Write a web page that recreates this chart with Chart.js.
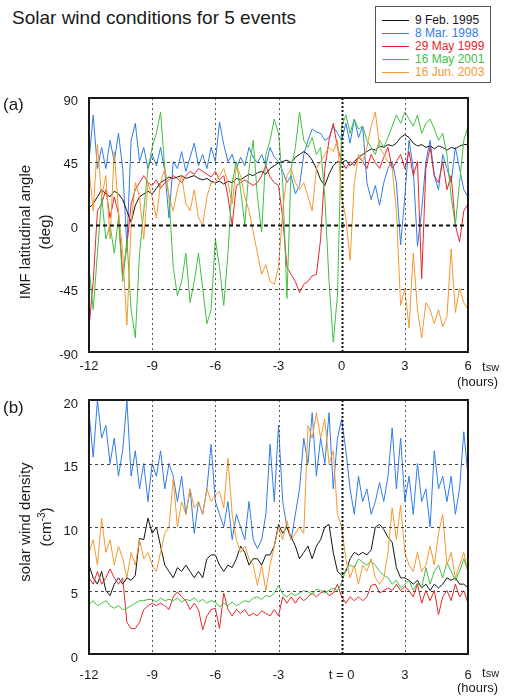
<!DOCTYPE html>
<html>
<head>
<meta charset="utf-8">
<script src="https://cdn.jsdelivr.net/npm/chart.js@4.4.0/dist/chart.umd.min.js"></script>
<style>
  body { margin:0; width:514px; height:697px; position:relative; overflow:hidden; background:#fff;
         font-family:"Liberation Sans", Arial, Helvetica, sans-serif; color:#1a1a1a; }
  .abs { position:absolute; white-space:nowrap; z-index:2; }
  canvas { position:absolute; left:0; }
  #title { left:12px; top:7px; font-size:19px; }
  #legend { left:375px; top:6px; width:116px; height:77px; border:1px solid #555; box-sizing:border-box; background:#fff; }
  .lg { position:absolute; left:6px; font-size:12px; line-height:13px; }
  .lg i { display:inline-block; width:27px; border-top:1px solid; vertical-align:middle; margin-right:6px; }
  .ylab { width:220px; text-align:center; font-size:15px; line-height:18px; transform:rotate(-90deg); }
  .panel { font-size:17px; }
  .tsw { font-size:13px; }
  .tsw span { font-size:11px; }
  .hrs { font-size:13px; }
</style>
</head>
<body>
<div class="abs" id="title">Solar wind conditions for 5 events</div>
<div class="abs" id="legend"></div>

<div class="abs panel" style="left:3px;top:95px">(a)</div>
<div class="abs panel" style="left:3px;top:398px">(b)</div>

<div class="abs ylab" style="left:-85px;top:223px">IMF latitudinal angle</div>
<div class="abs ylab" style="left:-65px;top:223px">(deg)</div>
<div class="abs ylab" style="left:-85px;top:513px">solar wind density</div>
<div class="abs ylab" style="left:-66px;top:516px">(cm<sup style="font-size:10px">-3</sup>)</div>

<div class="abs tsw" style="left:482px;top:359px">t<span>sw</span></div>
<div class="abs hrs" style="left:457px;top:374px">(hours)</div>
<div class="abs tsw" style="left:482px;top:665px">t<span>sw</span></div>
<div class="abs hrs" style="left:457px;top:680px">(hours)</div>

<canvas id="chartA" width="514" height="300" style="top:90px"></canvas>
<canvas id="chartB" width="514" height="300" style="top:392px"></canvas>

<script>
// samples every 0.2 h starting at t = -12 h (5 per hour, one row per hour)
const T0 = -12;
const STEP = 0.2;

const EVENTS = ['9 Feb. 1995', '8 Mar. 1998', '29 May 1999', '16 May 2001', '16 Jun. 2003'];
const COLORS = ['#141414', '#2f7be8', '#e8242a', '#40c03f', '#f5982f'];

const X_TICKS_A = ['-12', '-9', '-6', '-3', '0', '3', '6'];
const X_TICKS_B = ['-12', '-9', '-6', '-3', 't = 0', '3', '6'];

// ── (a) IMF latitudinal angle, deg ──────────────────────────
const ANGLE_FEB95 = [
  12, 15, 20, 25, 22,   20, 24, 22, 18, 10,   2, 14, 20, 22, 24,
  22, 26, 30, 32, 34,   33, 34, 35, 33, 34,   35, 33, 32, 33, 31,
  30, 31, 29, 31, 30,   33, 32, 34, 36, 35,   37, 38, 36, 40, 42,
  44, 45, 46, 44, 48,   50, 52, 50, 46, 40,   32, 28, 36, 42, 45,
  44, 46, 42, 45, 48,   50, 52, 54, 53, 56,   55, 57, 56, 58, 62,
  64, 62, 58, 56, 57,   55, 56, 54, 56, 55,   53, 55, 54, 56, 57,
  57];
const ANGLE_MAR98 = [
  45, 78, 40, 55, 40,   60, 45, 65, 40, -15,  60, 72, 45, 55, 40,
  50, 42, 55, 38, 5,    45, 40, 52, 38, 48,   58, 42, 50, 40, 55,
  45, 73, 57, 45, 50,   40, 48, 42, 55, 48,   44, 50, 42, 55, 48,
  45, 38, 30, 35, 22,   28, 50, 60, 68, 66,   65, 60, 62, 70, 65,
  60, 72, 58, 75, 62,   70, 30, 18, 28, 14,   30, 40, 45, 30, -14,
  20, 60, 40, -15, 10,  45, 60, 35, 25, 50,   40, 30, 55, 40, 25,
  20];
const ANGLE_MAY99 = [
  -73, -40, 10, 15, 25, 5, 20, 8, -35, -15,   15, 25, 30, 35, 30,
  28, 32, 26, 30, 32,   35, 33, 30, 35, 38,   36, 40, 38, 36, 34,
  38, 32, 35, 20, 0,    28, 30, 32, 30, 28,   30, 35, 42, 34, 30,
  28, 5, -30, -35, -40, -48, -42, -40, -36, -35, -10, 40, 60, 72, 55,
  45, 40, 45, 42, 48,   45, 40, 50, 44, 40,   48, 55, 40, 45, 50,
  40, 52, 35, 45, -38,  40, 55, 35, 30, 45,   25, 35, 0, -12, 10,
  15];
const ANGLE_MAY01 = [
  -30, -60, -20, 20, -10, 0, -20, 5, -40, -10, -60, -80, -20, 10, 40,
  55, 65, 80, 40, 20,   -30, -50, -40, -20, -55, -40, -20, -45, -70, -60,
  -10, -30, -57, -20, 30, 45, 25, 0, 40, 60,  20, -5, 50, 60, 75,
  65, 30, -52, 40, 55,  80, 60, 55, 62, 50,   55, 20, -40, -83, -50,
  70, 78, 65, 75, 68,   70, 60, 55, 50, 60,   55, 62, 70, 78, 72,
  80, 75, 70, 78, 65,   72, 75, 68, 60, 65,   50, 20, 0, 30, 60,
  70];
const ANGLE_JUN03 = [
  40, 10, 57, 20, 35,   -10, 52, 10, -20, -71, 0, 30, 20, -10, 30,
  20, 5, 30, 40, 20,    10, 25, 35, 15, 10,   25, 5, 0, 20, 30,
  30, 35, 40, 30, 15,   42, 35, 20, 10, -5,   -20, -35, -28, -40, -42,
  -30, 10, 35, 40, 30,  25, 30, 20, 10, 40,   45, 50, 55, 52, 60,
  20, 5, -25, 30, 50,   45, 55, 70, 80, 55,   50, 45, 40, 10, -57,
  -45, -73, -20, -60, -80, -55, -60, -70, -60, -72, -65, -17, -62, -45, -55,
  -60];

// ── (b) solar wind density, cm^-3 ───────────────────────────
const DENS_FEB95 = [
  7, 6, 5.5, 6.5, 5,    4.6, 5.5, 6, 5.5, 6,  5.8, 6.2, 9.1, 9, 10.7,
  9.5, 10, 8.5, 7, 6.5, 6, 6.8, 6.5, 7, 6.5,  6, 6.5, 6, 7.5, 7.8,
  7.8, 7, 6.5, 7, 6.8,  7.5, 8.5, 8, 7, 7.5,  7.5, 7, 7.8, 7.8, 8.5,
  10.2, 9.5, 10, 9.2, 8.5, 7.5, 8, 8.5, 7.5, 8.5, 9, 10, 10.2, 8, 6.5,
  6.2, 6.5, 7.5, 8, 7.8, 8, 7.8, 8.2, 10, 10.2, 9.8, 9.2, 8.8, 6.8, 6,
  6, 5.8, 5.5, 5.8, 5.2, 5.5, 5, 5.5, 5.2, 5.5, 6, 5.8, 6, 5.5, 5.5,
  5.2];
const DENS_MAR98 = [
  19, 15.5, 20, 17, 18, 15, 17, 14, 16, 20,   14, 16, 13, 15, 12,
  15, 14, 16, 13, 15,   14, 12, 14, 11, 13,   9.5, 12, 11, 13, 16.5,
  12, 11, 10, 12, 9,    11, 10, 9, 12, 9,     8.3, 9, 11, 16.5, 12,
  18, 12, 10, 9, 11,    13, 17, 15, 19, 14,   17, 15, 19, 13, 17,
  18.5, 16, 13, 11, 14, 12, 13, 11, 12, 13.5, 12, 14, 17.8, 13, 17,
  12, 14, 11, 15, 12,   13, 10, 16, 13, 14,   12, 14, 11, 13, 17.5,
  14];
const DENS_MAY99 = [
  6, 5.5, 6.5, 5.5, 6,  6.7, 6, 5.5, 6, 2.5,  2, 2, 2.5, 3.5, 3.8,
  4, 3.8, 4, 3.8, 3.5,  4.5, 4.9, 4.5, 4.2, 3.5, 4, 3.5, 1.9, 3, 3.5,
  3.6, 2, 4.8, 3.5, 3,  3.5, 3.2, 3.5, 3, 3.2, 3, 3.4, 3.2, 3, 3.5,
  3, 4.5, 4, 4.5, 4,    4.5, 4.2, 4.5, 4.8, 4.5, 4.8, 5, 4.6, 4.8, 5.5,
  4.5, 4, 4.5, 4.2, 4.5, 4.2, 4.5, 5.4, 5.5, 4.8, 5, 5.2, 5, 5.5, 5,
  5.3, 5, 4.5, 5.5, 4,  5, 4.2, 5, 3.1, 4.5,  5, 4.2, 5.5, 4.5, 5,
  4];
const DENS_MAY01 = [
  3.9, 4.2, 3.8, 4, 4.2, 3.8, 3.6, 3.8, 3.5, 3.6, 3.8, 4, 4.2, 4.2, 4.3,
  4.3, 4.1, 4.4, 4.2, 4.3, 4.2, 4.4, 4.1, 4.3, 4.2, 4.4, 4.1, 4.3, 4, 4.2,
  4.1, 3.7, 4, 3.8, 4.1, 3.8, 4, 4.2, 4.1, 4.4, 4.5, 4.3, 4.6, 4.5, 4.8,
  5.4, 4.7, 4.5, 4.8, 4.6, 4.8, 5, 4.9, 4.7, 5.1, 5, 4.8, 5, 5.2, 5,
  5.6, 6.7, 7, 6.8, 7.5, 7.2, 7, 7.3, 7, 6.5, 6.2, 6, 5.5, 5.8, 5.2,
  5.5, 5.8, 5, 5.6, 5.2, 6.8, 5.5, 6.5, 7, 6, 7.2, 6.5, 5.8, 6.5, 7.5,
  6.5];
const DENS_JUN03 = [
  8, 9, 7, 10.7, 8,     9, 7, 8.5, 7.5, 6,    8, 7, 9, 7.5, 8,
  7, 6.5, 8, 9.5, 10,   13.8, 10, 12, 11, 13, 11.5, 12, 11, 13, 12,
  12.5, 12.8, 11.5, 15.4, 11, 9, 8, 8.5, 7.5, 7, 5.4, 7, 5, 7, 8.5,
  10, 9, 10.5, 9, 9.5,  10, 9.5, 18, 17, 19,  17, 18.5, 15, 16, 11,
  10, 7.5, 6, 7, 5.5,   7, 6.5, 7.5, 6, 5.5,  6, 8, 11.5, 9, 11.7,
  8, 7, 6.5, 8, 6.5,    7, 8.5, 7, 9.5, 11,   7, 8, 6, 7, 8,
  6.5];

const ANGLE_SERIES = [ANGLE_FEB95, ANGLE_MAR98, ANGLE_MAY99, ANGLE_MAY01, ANGLE_JUN03];
const DENS_SERIES = [DENS_FEB95, DENS_MAR98, DENS_MAY99, DENS_MAY01, DENS_JUN03];
// drawing order, top first (Chart.js paints dataset 0 last)
const DRAW_ORDER = [4, 3, 2, 0, 1];

// ── Legend (HTML box) ────────────────────────────────────────
document.getElementById('legend').innerHTML = EVENTS.map((name, i) =>
  `<div class="lg" style="top:${7 + i * 13}px;color:${COLORS[i]}"><i style="border-color:${COLORS[i]}"></i>${name}</div>`
).join('');

Chart.defaults.font.family = '"Liberation Sans", Arial, Helvetica, sans-serif';
Chart.defaults.color = '#1a1a1a';

// grid lines + frame drawn on top of data, like the original figure
const gridFrame = {
  id: 'gridFrame',
  afterDatasetsDraw(chart, args, opts) {
    const { ctx, chartArea: a, scales: { x, y } } = chart;
    ctx.save();
    const hLine = (v, w, dash, col) => {
      const py = Math.round(y.getPixelForValue(v)) + 0.5;
      ctx.lineWidth = w; ctx.setLineDash(dash); ctx.strokeStyle = col;
      ctx.beginPath(); ctx.moveTo(a.left, py); ctx.lineTo(a.right, py); ctx.stroke();
    };
    const vLine = (v, w, dash, col) => {
      const px = Math.round(x.getPixelForValue(v)) + 0.5;
      ctx.lineWidth = w; ctx.setLineDash(dash); ctx.strokeStyle = col;
      ctx.beginPath(); ctx.moveTo(px, a.top); ctx.lineTo(px, a.bottom); ctx.stroke();
    };
    opts.hLines.forEach(v => hLine(v, 1, [3, 3], '#444'));
    if (opts.hBold !== null) hLine(opts.hBold, 2, [4, 3], '#111');
    [-9, -6, -3, 3].forEach(v => vLine(v, 1, [2, 3], '#555'));
    vLine(0, 2, [2, 2], '#111');
    ctx.setLineDash([]);
    ctx.lineWidth = 2;
    ctx.strokeStyle = '#1a1a1a';
    ctx.strokeRect(a.left, a.top, a.right - a.left, a.bottom - a.top);
    ctx.restore();
  }
};

// keep the plot box at fixed pixels: no extra room for half tick labels
const noEdgePad = s => { s.paddingTop = 0; s.paddingBottom = 0; s.paddingLeft = 0; s.paddingRight = 0; };

function makeChart(id, series, yMin, yMax, yStep, xLabels, hLines, hBold, xPad, yOff) {
  const datasets = DRAW_ORDER.map(k => ({
    label: EVENTS[k],
    data: series[k].map((v, i) => ({ x: T0 + i * STEP, y: v })),
    borderColor: COLORS[k],
    borderWidth: 1,
    pointRadius: 0,
    tension: 0,
    fill: false,
  }));
  return new Chart(document.getElementById(id), {
    type: 'line',
    data: { datasets },
    plugins: [gridFrame],
    options: {
      responsive: false, animation: false, devicePixelRatio: 1,
      layout: { padding: { top: 8, right: 46, left: 0, bottom: 0 } },
      plugins: {
        legend: { display: false }, tooltip: { enabled: false },
        gridFrame: { hLines, hBold },
      },
      scales: {
        x: {
          type: 'linear', min: -12, max: 6,
          grid: { display: false, drawTicks: false }, border: { display: false },
          ticks: { stepSize: 3, padding: xPad, font: { size: 13 }, maxRotation: 0,
                   callback: v => xLabels[(v + 12) / 3] },
          afterFit: s => { s.height = 38; noEdgePad(s); },
        },
        y: {
          min: yMin, max: yMax,
          grid: { display: false, drawTicks: false }, border: { display: false },
          ticks: { stepSize: yStep, padding: 11, labelOffset: yOff, font: { size: 13 } },
          afterFit: s => { s.width = 89; noEdgePad(s); },
        },
      },
    },
  });
}

makeChart('chartA', ANGLE_SERIES, -90, 90, 45, X_TICKS_A, [45, -45], 0, 7, 3);
makeChart('chartB', DENS_SERIES, 0, 20, 5, X_TICKS_B, [5, 10, 15], null, 14, 4);
</script>
</body>
</html>
